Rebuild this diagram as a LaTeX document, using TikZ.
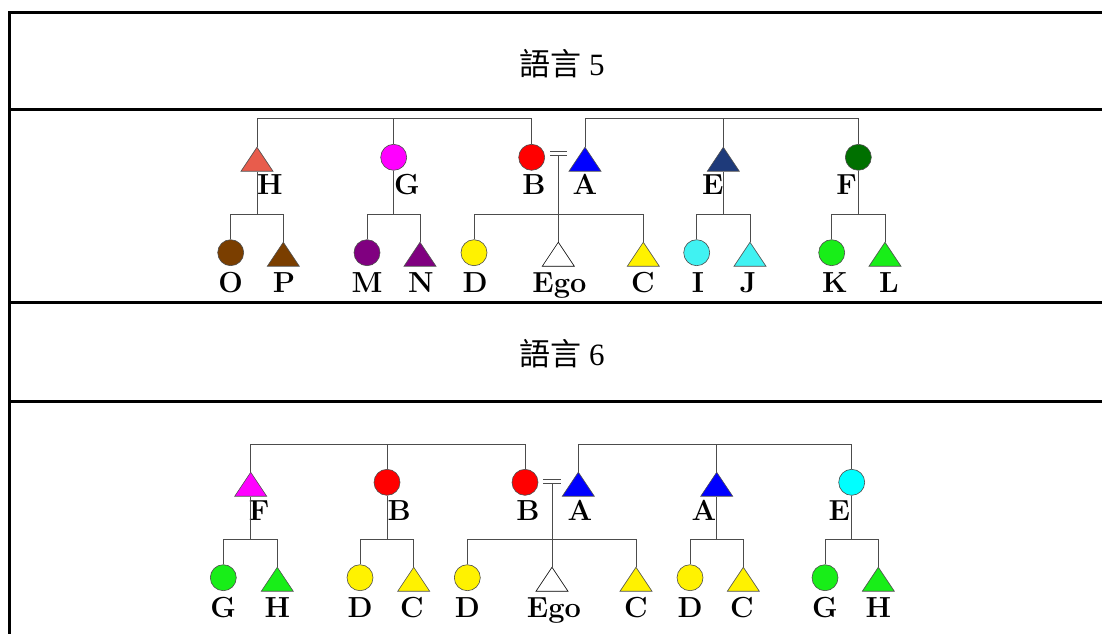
\documentclass[tikz,border=0pt]{standalone}
\usepackage{fontspec}
\newfontfamily\cjk{Noto Sans CJK TC}
\newfontfamily\hdfont{Liberation Serif}
\usetikzlibrary{shapes.geometric}

\definecolor{salmon}{RGB}{232,92,76}
\definecolor{mag}{RGB}{255,0,255}
\definecolor{navy}{RGB}{30,58,122}
\definecolor{dgreen}{RGB}{0,112,0}
\definecolor{brn}{RGB}{122,62,0}
\definecolor{purp}{RGB}{128,0,128}
\definecolor{turq}{RGB}{64,242,242}
\definecolor{aqua}{RGB}{0,255,255}
\definecolor{lgreen}{RGB}{24,238,24}

\begin{document}
\begin{tikzpicture}[
        x=1pt, y=-1pt,
        rule/.style={line width=3pt, black},
        link/.style={draw=black!70, line width=1pt},
        fem/.style={circle, draw=black!70, line width=0.6pt, minimum size=26pt, inner sep=0pt},
        mal/.style={isosceles triangle, isosceles triangle apex angle=67.4, isosceles triangle stretches,
            shape border rotate=90, draw=black!70, line width=0.6pt, inner sep=0pt,
            minimum width=32pt, minimum height=24pt, anchor=apex},
        lbl/.style={font=\fontsize{29}{34}\selectfont\bfseries, anchor=base, inner sep=0pt},
        hd/.style={font=\hdfont\fontsize{31}{36}\selectfont, anchor=base, inner sep=0pt},
    ]
    \useasboundingbox (0,0) rectangle (1102,634);
    % table rules
    \draw[rule] (1102,12.8) -| (9.7,634);
    \draw[rule] (9.7,109.5) -- (1102,109.5);
    \draw[rule] (9.7,302.8) -- (1102,302.8);
    \draw[rule] (9.7,401) -- (1102,401);

    % language 5
    \node[hd] (t5) at (562,75) {{\cjk 語言} 5};
    \coordinate (r5) at (0,118.5);
    \coordinate (s5) at (0,214);
    \coordinate (m5) at (558.3,153.7);
    \node[mal, fill=salmon] (H5) at (257,146.7) {};
    \node[fem, fill=mag] (G5) at (393.7,157.3) {};
    \node[fem, fill=red] (B5) at (531.7,157.3) {};
    \node[mal, fill=blue] (A5) at (585,146.7) {};
    \node[mal, fill=navy] (E5) at (723.3,146.7) {};
    \node[fem, fill=dgreen] (F5) at (858.3,157.3) {};
    \node[fem, fill=brn] (O5) at (230.7,252.7) {};
    \node[mal, fill=brn] (P5) at (283.3,241.7) {};
    \node[fem, fill=purp] (M5) at (367,252.7) {};
    \node[mal, fill=purp] (N5) at (420,241.7) {};
    \node[fem, fill=yellow] (D5) at (474,252.7) {};
    \node[mal, fill=white, draw=black] (Ego5) at (558.3,241.7) {};
    \node[mal, fill=yellow] (C5) at (643.3,241.7) {};
    \node[fem, fill=turq] (I5) at (696.7,252.7) {};
    \node[mal, fill=turq] (J5) at (750,241.7) {};
    \node[fem, fill=lgreen] (K5) at (831.7,252.7) {};
    \node[mal, fill=lgreen] (L5) at (885,241.7) {};

    \node[lbl] (H5l) at (270,194.5) {H};
    \node[lbl] (G5l) at (407,194.5) {G};
    \node[lbl] (B5l) at (534,194.5) {B};
    \node[lbl] (A5l) at (585,194.5) {A};
    \node[lbl] (E5l) at (712.7,194.5) {E};
    \node[lbl] (F5l) at (846.7,194.5) {F};
    \node[lbl] (O5l) at (230.7,292) {O};
    \node[lbl] (P5l) at (284,292) {P};
    \node[lbl] (M5l) at (367,292) {M};
    \node[lbl] (N5l) at (421,292) {N};
    \node[lbl] (D5l) at (475,292) {D};
    \node[lbl] (Ego5l) at (559.5,292) {Ego};
    \node[lbl] (C5l) at (643,292) {C};
    \node[lbl] (I5l) at (698,292) {I};
    \node[lbl] (J5l) at (748,292) {J};
    \node[lbl] (K5l) at (835,292) {K};
    \node[lbl] (L5l) at (889,292) {L};

    \draw[link] (H5.apex) -- (H5.apex |- r5) -- (B5.north |- r5) -- (B5.north);
    \draw[link] (G5.north) -- (G5.north |- r5);
    \draw[link] (A5.apex) -- (A5.apex |- r5) -- (F5.north |- r5) -- (F5.north);
    \draw[link] (E5.apex) -- (E5.apex |- r5);
    \draw[link] (H5.lower side) -- (H5.lower side |- s5);
    \draw[link] (O5.north) -- (O5.north |- s5) -- (P5.apex |- s5) -- (P5.apex);
    \draw[link] (G5.south) -- (G5.south |- s5);
    \draw[link] (M5.north) -- (M5.north |- s5) -- (N5.apex |- s5) -- (N5.apex);
    \draw[link] ([xshift=-8.3pt,yshift=2pt]m5) -- ([xshift=8.3pt,yshift=2pt]m5);
    \draw[link] ([xshift=-8.3pt,yshift=-2pt]m5) -- ([xshift=8.3pt,yshift=-2pt]m5);
    \draw[link] ([yshift=-2pt]m5) -- (Ego5.apex);
    \draw[link] (D5.north) -- (D5.north |- s5) -- (C5.apex |- s5) -- (C5.apex);
    \draw[link] (E5.lower side) -- (E5.lower side |- s5);
    \draw[link] (I5.north) -- (I5.north |- s5) -- (J5.apex |- s5) -- (J5.apex);
    \draw[link] (F5.south) -- (F5.south |- s5);
    \draw[link] (K5.north) -- (K5.north |- s5) -- (L5.apex |- s5) -- (L5.apex);

    % language 6
    \node[hd] (t6) at (562,365) {{\cjk 語言} 6};
    \coordinate (r6) at (0,444);
    \coordinate (s6) at (0,539.5);
    \coordinate (m6) at (552,481.3);
    \node[mal, fill=mag] (F6) at (250.7,471.7) {};
    \node[fem, fill=red] (B6a) at (387,482.3) {};
    \node[fem, fill=red] (B6) at (525,482.3) {};
    \node[mal, fill=blue] (A6) at (578.3,471.7) {};
    \node[mal, fill=blue] (A6a) at (716.7,471.7) {};
    \node[fem, fill=aqua] (E6) at (851.7,482.3) {};
    \node[fem, fill=lgreen] (G6) at (223.3,577.7) {};
    \node[mal, fill=lgreen] (H6) at (277.3,566.7) {};
    \node[fem, fill=yellow] (D6a) at (360,577.7) {};
    \node[mal, fill=yellow] (C6a) at (413.7,566.7) {};
    \node[fem, fill=yellow] (D6) at (467.3,577.7) {};
    \node[mal, fill=white, draw=black] (Ego6) at (552,566.7) {};
    \node[mal, fill=yellow] (C6) at (636,566.7) {};
    \node[fem, fill=yellow] (D6b) at (690,577.7) {};
    \node[mal, fill=yellow] (C6b) at (743.3,566.7) {};
    \node[fem, fill=lgreen] (G6b) at (825,577.7) {};
    \node[mal, fill=lgreen] (H6b) at (878.3,566.7) {};

    \node[lbl] (F6l) at (259,520) {F};
    \node[lbl] (B6al) at (399.3,520) {B};
    \node[lbl] (B6l) at (528,520) {B};
    \node[lbl] (A6l) at (580,520) {A};
    \node[lbl] (A6al) at (704,520) {A};
    \node[lbl] (E6l) at (839.3,520) {E};
    \node[lbl] (G6l) at (223.3,617) {G};
    \node[lbl] (H6l) at (277.3,617) {H};
    \node[lbl] (D6al) at (360,617) {D};
    \node[lbl] (C6al) at (412,617) {C};
    \node[lbl] (D6l) at (467.3,617) {D};
    \node[lbl] (Ego6l) at (554,617) {Ego};
    \node[lbl] (C6l) at (636,617) {C};
    \node[lbl] (D6bl) at (690,617) {D};
    \node[lbl] (C6bl) at (742,617) {C};
    \node[lbl] (G6bl) at (825,617) {G};
    \node[lbl] (H6bl) at (878.3,617) {H};

    \draw[link] (F6.apex) -- (F6.apex |- r6) -- (B6.north |- r6) -- (B6.north);
    \draw[link] (B6a.north) -- (B6a.north |- r6);
    \draw[link] (A6.apex) -- (A6.apex |- r6) -- (E6.north |- r6) -- (E6.north);
    \draw[link] (A6a.apex) -- (A6a.apex |- r6);
    \draw[link] (F6.lower side) -- (F6.lower side |- s6);
    \draw[link] (G6.north) -- (G6.north |- s6) -- (H6.apex |- s6) -- (H6.apex);
    \draw[link] (B6a.south) -- (B6a.south |- s6);
    \draw[link] (D6a.north) -- (D6a.north |- s6) -- (C6a.apex |- s6) -- (C6a.apex);
    \draw[link] ([xshift=-8.7pt,yshift=2pt]m6) -- ([xshift=8.7pt,yshift=2pt]m6);
    \draw[link] ([xshift=-8.7pt,yshift=-2pt]m6) -- ([xshift=8.7pt,yshift=-2pt]m6);
    \draw[link] ([yshift=-2pt]m6) -- (Ego6.apex);
    \draw[link] (D6.north) -- (D6.north |- s6) -- (C6.apex |- s6) -- (C6.apex);
    \draw[link] (A6a.lower side) -- (A6a.lower side |- s6);
    \draw[link] (D6b.north) -- (D6b.north |- s6) -- (C6b.apex |- s6) -- (C6b.apex);
    \draw[link] (E6.south) -- (E6.south |- s6);
    \draw[link] (G6b.north) -- (G6b.north |- s6) -- (H6b.apex |- s6) -- (H6b.apex);
\end{tikzpicture}
\end{document}
